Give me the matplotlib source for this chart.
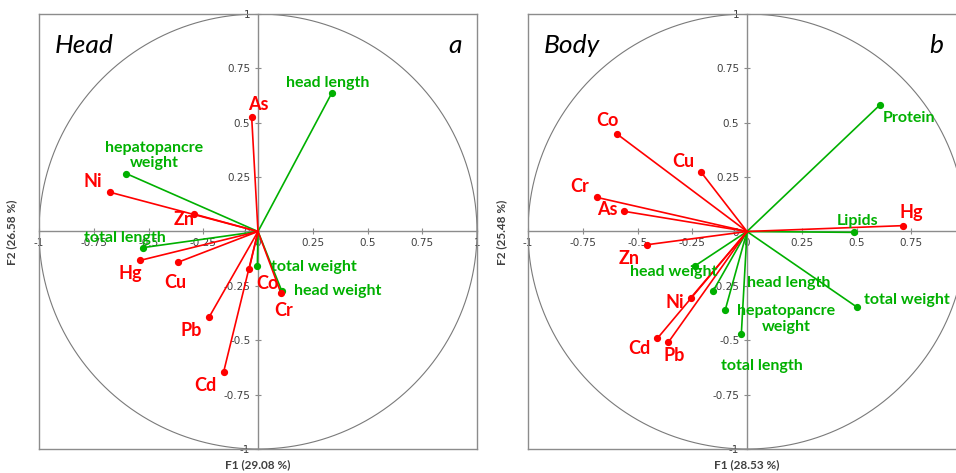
import matplotlib
matplotlib.use("Agg")
import matplotlib.pyplot as plt
import numpy as np
from matplotlib.lines import Line2D
from matplotlib.ticker import FixedLocator, FuncFormatter

plt.rcParams["axes.unicode_minus"] = False

# ---- Head: correlation loadings on F1/F2 ----
head_metals = ["As", "Cd", "Co", "Cr", "Cu", "Hg", "Ni", "Pb", "Zn"]
head_metals_f1 = [-0.029, -0.157, -0.040, 0.105, -0.367, -0.539, -0.674, -0.224, -0.291]
head_metals_f2 = [0.528, -0.646, -0.171, -0.284, -0.142, -0.133, 0.180, -0.395, 0.080]

head_traits = ["head length", "hepatopancre\nweight", "total length", "total weight", "head weight"]
head_traits_f1 = [0.336, -0.601, -0.524, -0.003, 0.108]
head_traits_f2 = [0.635, 0.266, -0.074, -0.159, -0.272]

# ---- Body: correlation loadings on F1/F2 ----
body_metals = ["As", "Cd", "Co", "Cr", "Cu", "Hg", "Ni", "Pb", "Zn"]
body_metals_f1 = [-0.562, -0.409, -0.592, -0.686, -0.209, 0.714, -0.256, -0.359, -0.458]
body_metals_f2 = [0.093, -0.491, 0.447, 0.157, 0.272, 0.027, -0.304, -0.509, -0.061]

body_traits = ["Protein", "Lipids", "head weight", "head length",
               "hepatopancre\nweight", "total weight", "total length"]
body_traits_f1 = [0.607, 0.487, -0.236, -0.154, -0.099, 0.501, -0.026]
body_traits_f2 = [0.582, -0.004, -0.157, -0.272, -0.359, -0.347, -0.473]

head_axis_labels = ("F1 (29.08 %)", "F2 (26.58 %)")
body_axis_labels = ("F1 (28.53 %)", "F2 (25.48 %)")

tick_values = [-1, -0.75, -0.5, -0.25, 0, 0.25, 0.5, 0.75, 1]

# label anchor points (data coordinates) for each variable name
head_label_xy = {
    "As": (0.000, 0.586), "Cd": (-0.240, -0.709), "Co": (0.041, -0.238),
    "Cr": (0.117, -0.361), "Cu": (-0.379, -0.234), "Hg": (-0.585, -0.192),
    "Ni": (-0.752, 0.229), "Pb": (-0.303, -0.453), "Zn": (-0.338, 0.055),
    "head length": (0.317, 0.684), "hepatopancre\nweight": (-0.473, 0.350),
    "total length": (-0.607, -0.031), "total weight": (0.253, -0.162),
    "head weight": (0.365, -0.275),
}
body_label_xy = {
    "As": (-0.639, 0.099), "Cd": (-0.491, -0.537), "Co": (-0.639, 0.509),
    "Cr": (-0.763, 0.206), "Cu": (-0.292, 0.324), "Hg": (0.749, 0.088),
    "Ni": (-0.331, -0.327), "Pb": (-0.333, -0.572), "Zn": (-0.539, -0.126),
    "Protein": (0.740, 0.520), "Lipids": (0.505, 0.050),
    "head weight": (-0.336, -0.188), "head length": (0.192, -0.238),
    "hepatopancre\nweight": (0.180, -0.401), "total weight": (0.729, -0.315),
    "total length": (0.068, -0.617),
}

RED = "#FF0000"
GREEN = "#00B000"
GRAY = "#8C8C8C"
TXT = "#404040"
LABEL_FONT = "Lato"


def tick_fmt(v, _):
    return "%g" % v


def draw_panel(ax, metals, mx, my, traits, tx, ty, label_xy, title, letter, axis_labels):
    ax.set_xlim(-1, 1)
    ax.set_ylim(-1, 1)
    ax.set_facecolor("white")

    # unit circle
    t = np.linspace(0, 2 * np.pi, 400)
    ax.plot(np.cos(t), np.sin(t), color="#7a7a7a", lw=0.8, zorder=1)

    # zero axes carry the ticks
    ax.spines["left"].set_position(("data", 0))
    ax.spines["bottom"].set_position(("data", 0))
    for s in ax.spines.values():
        s.set_color(GRAY)
        s.set_linewidth(1.0)
    # frame edges
    for xs, ys in (([0, 0], [0, 1]), ([0, 1], [0, 0])):
        ax.add_line(Line2D(xs, ys, transform=ax.transAxes, color=GRAY, lw=1.0,
                           clip_on=False, zorder=2))

    ax.xaxis.set_major_locator(FixedLocator(tick_values))
    ax.yaxis.set_major_locator(FixedLocator(tick_values))
    ax.xaxis.set_major_formatter(FuncFormatter(tick_fmt))
    ax.yaxis.set_major_formatter(FuncFormatter(tick_fmt))
    ax.tick_params(direction="inout", length=5, width=0.8, color=GRAY,
                   labelsize=7.5, labelcolor=TXT, pad=2)
    ax.tick_params(axis="y", pad=3)

    # vectors
    for name, x, y in zip(traits, tx, ty):
        ax.plot([0, x], [0, y], color=GREEN, lw=1.2, zorder=3)
        ax.plot([x], [y], "o", color=GREEN, ms=4.2, zorder=4)
    for name, x, y in zip(metals, mx, my):
        ax.plot([0, x], [0, y], color=RED, lw=1.2, zorder=3)
        ax.plot([x], [y], "o", color=RED, ms=4.2, zorder=4)

    for name in traits:
        lx, ly = label_xy[name]
        ax.text(lx, ly, name, color=GREEN, fontsize=11.5, fontweight="bold",
                family=LABEL_FONT, ha="center", va="center", zorder=5,
                linespacing=1.15)
    for name in metals:
        lx, ly = label_xy[name]
        ax.text(lx, ly, name, color=RED, fontsize=13, fontweight="bold",
                family=LABEL_FONT, ha="center", va="center", zorder=5)

    ax.text(0.035, 0.955, title, transform=ax.transAxes, fontsize=19,
            style="italic", family=LABEL_FONT, ha="left", va="top", color="black")
    ax.text(0.0, 0.955, letter, transform=ax.transAxes, fontsize=19,
            style="italic", family=LABEL_FONT, ha="center", va="top", color="black")
    return ax


fig = plt.figure(figsize=(9.56, 4.73), dpi=100)
fig.patch.set_facecolor("white")

ax1 = fig.add_axes([39 / 956, 24 / 473, 438 / 956, 435 / 473])
ax2 = fig.add_axes([528 / 956, 24 / 473, 438 / 956, 435 / 473])

draw_panel(ax1, head_metals, head_metals_f1, head_metals_f2,
           head_traits, head_traits_f1, head_traits_f2, head_label_xy,
           "Head", "a", head_axis_labels)
draw_panel(ax2, body_metals, body_metals_f1, body_metals_f2,
           body_traits, body_traits_f1, body_traits_f2, body_label_xy,
           "Body", "b", body_axis_labels)

# panel letters
ax1.texts[-1].set_position((454.5 - 39) / 438 if False else (0.949, 0.955))
ax2.texts[-1].set_position((0.931, 0.955))

# axis titles
for ax, (xl, yl), x0, xc in ((ax1, head_axis_labels, 12, 258), (ax2, body_axis_labels, 502, 747)):
    fig.text(xc / 956, 1 - 465 / 473, xl, ha="center", va="center",
             fontsize=8.5, fontweight="bold", family=LABEL_FONT, color=TXT)
    fig.text(x0 / 956, 1 - 232 / 473, yl, ha="center", va="center", rotation=90,
             fontsize=8.5, fontweight="bold", family=LABEL_FONT, color=TXT)

fig.savefig("out.png", dpi=100, facecolor="white")
